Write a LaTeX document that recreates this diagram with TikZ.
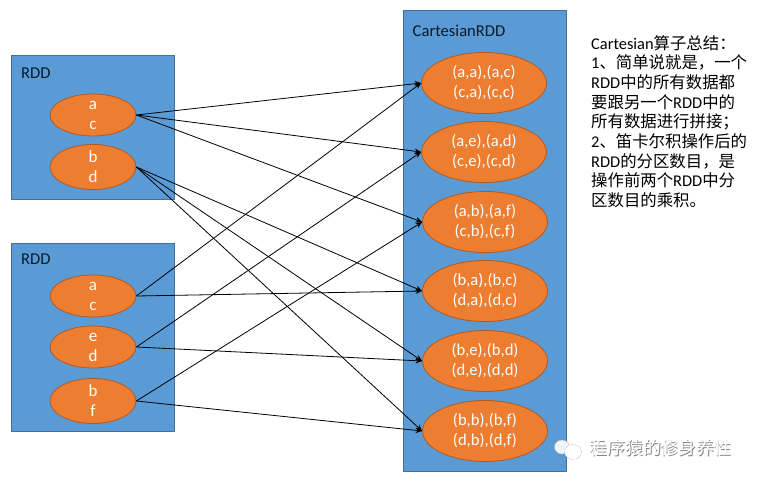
\documentclass[tikz,border=0pt]{standalone}
\usepackage{fontspec}
\setmainfont{Carlito}
\newfontfamily\cjk{Noto Sans CJK SC}
\usetikzlibrary{shapes.geometric,arrows.meta}
\definecolor{boxblue}{HTML}{5B9BD5}
\definecolor{boxedge}{HTML}{41719C}
\definecolor{ovalorange}{HTML}{ED7D31}
\definecolor{ovaledge}{HTML}{AE5A21}
\definecolor{titleink}{HTML}{0C1A2B}
\tikzset{
  x=1pt,y=1pt,
  panel/.style={draw=boxedge,fill=boxblue,line width=0.8pt,minimum width=#1,inner sep=0pt},
  paneltitle/.style={anchor=west,text=titleink,font=\fontsize{16.6}{19}\selectfont,inner sep=0pt},
  smalloval/.style={ellipse,draw=ovaledge,fill=ovalorange,line width=0.8pt,minimum width=86pt,minimum height=42pt,inner sep=0pt,text=white,align=center,font=\fontsize{17}{20}\selectfont},
  bigoval/.style={ellipse,draw=ovaledge,fill=ovalorange,line width=0.8pt,minimum width=125pt,minimum height=61pt,inner sep=0pt,text=white,align=center,font=\fontsize{16.6}{20}\selectfont},
  link/.style={-{Stealth[length=6.5pt,width=5.5pt]},black,line width=0.8pt,shorten >=0pt,shorten <=0pt},
  summary/.style={anchor=north west,inner sep=0pt,align=left,text=black,text width=165pt,font=\fontsize{16.4}{19.7}\selectfont},
  mark text/.style={anchor=west,inner sep=0pt,font=\cjk\fontsize{17.7}{20}\selectfont}
}
\begin{document}
\begin{tikzpicture}
\useasboundingbox (0,0) rectangle (757,-481);
\fill[white] (0,0) rectangle (757,-481);
% panels
\node[panel=163pt,minimum height=144pt] (rddA) at (92.5,-127) {};
\node[panel=163pt,minimum height=188pt] (rddB) at (92.5,-337) {};
\node[panel=163pt,minimum height=461pt] (cart) at (484.5,-240.5) {};
\node[paneltitle] (tA) at (21,-73) {RDD};
\node[paneltitle] (tB) at (21,-259) {RDD};
\node[paneltitle] (tC) at (412.5,-30.5) {CartesianRDD};
% left ovals
\node[smalloval] (a1) at (93,-115) {a\\c};
\node[smalloval] (a2) at (93,-167) {b\\d};
\node[smalloval] (b1) at (93,-296) {a\\c};
\node[smalloval] (b2) at (93,-347) {e\\d};
\node[smalloval] (b3) at (93,-401) {b\\f};
% right ovals
\node[bigoval] (c1) at (484,-83) {(a,a),(a,c)\\(c,a),(c,c)};
\node[bigoval] (c2) at (484,-152) {(a,e),(a,d)\\(c,e),(c,d)};
\node[bigoval] (c3) at (485,-222) {(a,b),(a,f)\\(c,b),(c,f)};
\node[bigoval] (c4) at (485,-291) {(b,a),(b,c)\\(d,a),(d,c)};
\node[bigoval] (c5) at (485,-361) {(b,e),(b,d)\\(d,e),(d,d)};
\node[bigoval] (c6) at (485,-431) {(b,b),(b,f)\\(d,b),(d,f)};
% connectors
\foreach \s/\t in {a1/c1,a1/c2,a1/c3,a2/c4,a2/c5,a2/c6,b1/c1,b1/c4,b2/c2,b2/c5,b3/c3,b3/c6}
  \draw[link] (\s.east) -- (\t.west);
% summary
\node[summary] (note) at (591,-35) {Cartesian{\cjk 算子总结：}\\
1{\cjk 、简单说就是，一个}\\
RDD{\cjk 中的所有数据都}\\
{\cjk 要跟另一个}RDD{\cjk 中的}\\
{\cjk 所有数据进行拼接；}\\
2{\cjk 、笛卡尔积操作后的}\\
RDD{\cjk 的分区数目，是}\\
{\cjk 操作前两个}RDD{\cjk 中分}\\
{\cjk 区数目的乘积。}};
% watermark
\fill[white!90!boxblue,draw=black!30,line width=0.3pt] (562,-447) ellipse (7.5pt and 7pt);
\fill[white,draw=black!55,densely dotted,line width=0.4pt] (573,-452) ellipse (8.5pt and 7.5pt);
\node[mark text,text=black!50] (wmS) at (590.7,-448.7) {程序猿的修身养性};
\node[mark text,text=white] (wm) at (590,-448) {程序猿的修身养性};
\end{tikzpicture}
\end{document}
